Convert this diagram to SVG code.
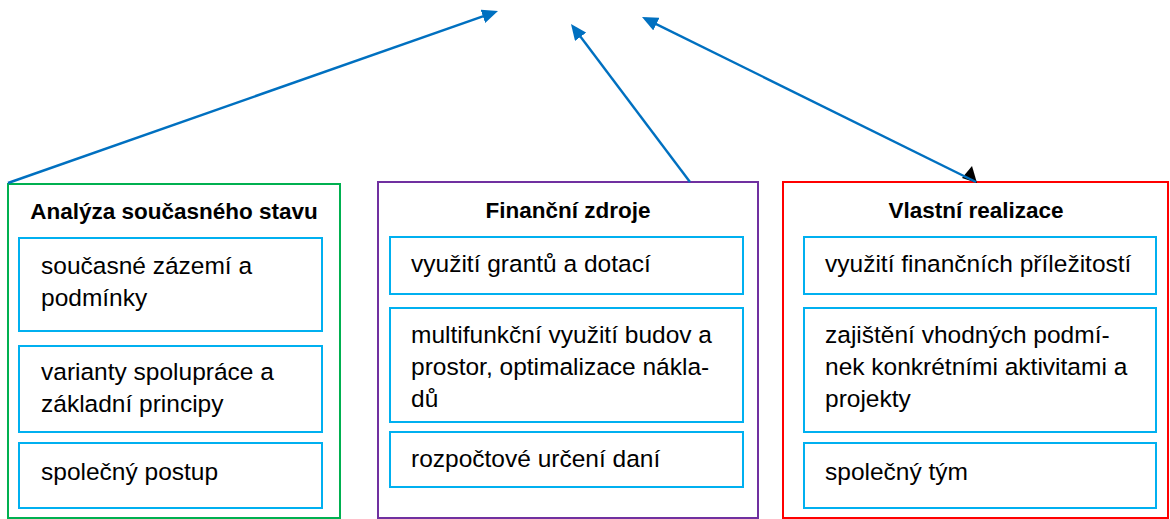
<svg xmlns="http://www.w3.org/2000/svg" width="1170" height="519" viewBox="0 0 1170 519">
<style>
.outer{fill:#fff;stroke-width:2}
.inner{fill:#fff;stroke:#00B0F0;stroke-width:2}
.t{font-family:"Liberation Sans",Arial,sans-serif;font-size:24.5px;fill:#000}
.h{font-family:"Liberation Sans",Arial,sans-serif;font-size:22.5px;font-weight:bold;fill:#000;text-anchor:middle}
.c{fill:none;stroke:#0070C0;stroke-width:2.4;marker-end:url(#ah)}
</style>
<defs>
<marker id="ah" markerUnits="userSpaceOnUse" markerWidth="16" markerHeight="14" refX="12" refY="7" orient="auto">
<path d="M0,0 L16,7 L0,14 z" fill="#0070C0"/>
</marker>
</defs>
<rect width="1170" height="519" fill="#fff"/>
<g id="analyza">
<rect class="outer" x="8" y="184" width="332" height="334" stroke="#00B050"/>
<text class="h" x="174" y="219">Analýza současného stavu</text>
<rect class="inner" x="19" y="238" width="303" height="93"/>
<text class="t" x="41" y="274">současné zázemí a</text>
<text class="t" x="41" y="306">podmínky</text>
<rect class="inner" x="19" y="346" width="303" height="86"/>
<text class="t" x="41" y="380">varianty spolupráce a</text>
<text class="t" x="41" y="412">základní principy</text>
<rect class="inner" x="19" y="443" width="303" height="65"/>
<text class="t" x="41" y="480">společný postup</text>
</g>
<g id="financni">
<rect class="outer" x="378" y="182" width="380" height="336" stroke="#7030A0"/>
<text class="h" x="568" y="218">Finanční zdroje</text>
<rect class="inner" x="390" y="237" width="353" height="57"/>
<text class="t" x="411" y="272">využití grantů a dotací</text>
<rect class="inner" x="390" y="308" width="353" height="114"/>
<text class="t" x="411" y="343">multifunkční využití budov a</text>
<text class="t" x="411" y="375">prostor, optimalizace nákla-</text>
<text class="t" x="411" y="407">dů</text>
<rect class="inner" x="390" y="432" width="353" height="55"/>
<text class="t" x="411" y="467">rozpočtové určení daní</text>
</g>
<g id="realizace">
<rect class="outer" x="783" y="182" width="385" height="336" stroke="#FF0000"/>
<text class="h" x="976" y="218">Vlastní realizace</text>
<rect class="inner" x="804" y="237" width="352" height="57"/>
<text class="t" x="825" y="272">využití finančních příležitostí</text>
<rect class="inner" x="804" y="308" width="352" height="124"/>
<text class="t" x="825" y="343">zajištění vhodných podmí-</text>
<text class="t" x="825" y="375">nek konkrétními aktivitami a</text>
<text class="t" x="825" y="407">projekty</text>
<rect class="inner" x="804" y="443" width="352" height="65"/>
<text class="t" x="825" y="480">společný tým</text>
</g>
<g id="connectors">
<line class="c" x1="8" y1="183" x2="494.2" y2="12.3"/>
<line class="c" x1="690" y1="182" x2="573.4" y2="27.2"/>
<polygon points="972,166 962,178 977,183" fill="#000"/>
<line class="c" x1="976" y1="182" x2="645.6" y2="18.8"/>
</g>
</svg>
